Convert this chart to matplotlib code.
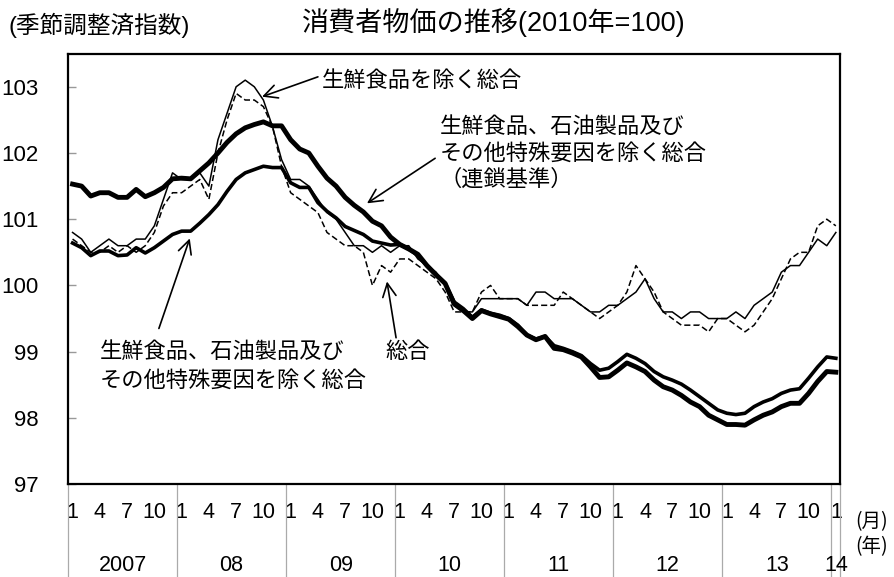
import matplotlib.pyplot as plt
import numpy as np

plt.rcParams['font.family'] = ['Liberation Sans', 'Noto Sans CJK JP']
JP = ['Noto Sans CJK JP', 'DejaVu Sans']

# monthly index, Jan 2007 .. Jan 2014 (85 months)
headline = [
    100.7, 100.6, 100.5, 100.5, 100.6, 100.5, 100.6, 100.5, 100.6, 100.8, 101.2, 101.4,
    101.4, 101.5, 101.6, 101.3, 102.0, 102.5, 102.9, 102.8, 102.8, 102.7, 102.4, 101.8,
    101.4, 101.3, 101.2, 101.1, 100.8, 100.7, 100.6, 100.6, 100.5, 100.0, 100.3, 100.2,
    100.4, 100.4, 100.3, 100.2, 100.1, 99.9, 99.6, 99.6, 99.6, 99.9, 100.0, 99.8,
    99.8, 99.8, 99.7, 99.7, 99.7, 99.7, 99.9, 99.8, 99.7, 99.6, 99.5, 99.6,
    99.7, 99.9, 100.3, 100.1, 99.9, 99.6, 99.5, 99.4, 99.4, 99.4, 99.3, 99.5,
    99.5, 99.4, 99.3, 99.4, 99.6, 99.8, 100.1, 100.4, 100.5, 100.5, 100.9, 101.0,
    100.9,
]
core = [
    100.8, 100.7, 100.5, 100.6, 100.7, 100.6, 100.6, 100.7, 100.7, 100.9, 101.3, 101.7,
    101.6, 101.6, 101.7, 101.5, 102.2, 102.6, 103.0, 103.1, 103.0, 102.8, 102.4, 101.9,
    101.6, 101.6, 101.5, 101.3, 101.1, 101.0, 100.8, 100.6, 100.6, 100.5, 100.6, 100.5,
    100.6, 100.6, 100.4, 100.3, 100.2, 100.0, 99.7, 99.6, 99.6, 99.8, 99.8, 99.8,
    99.8, 99.8, 99.7, 99.9, 99.9, 99.8, 99.8, 99.8, 99.7, 99.6, 99.6, 99.7,
    99.7, 99.8, 99.9, 100.1, 99.8, 99.6, 99.6, 99.5, 99.6, 99.6, 99.5, 99.5,
    99.5, 99.6, 99.5, 99.7, 99.8, 99.9, 100.2, 100.3, 100.3, 100.5, 100.7, 100.6,
    100.8,
]
core_core_fixed = [
    100.64, 100.57, 100.45, 100.52, 100.52, 100.45, 100.46, 100.57, 100.49, 100.57, 100.67, 100.77,
    100.82, 100.82, 100.94, 101.07, 101.22, 101.42, 101.60, 101.70, 101.75, 101.80, 101.78, 101.78,
    101.55, 101.48, 101.48, 101.25, 101.12, 101.02, 100.89, 100.83, 100.77, 100.67, 100.64, 100.61,
    100.62, 100.55, 100.45, 100.30, 100.16, 100.03, 99.75, 99.65, 99.52, 99.63, 99.58, 99.55,
    99.50, 99.40, 99.25, 99.19, 99.23, 99.09, 99.05, 99.00, 98.94, 98.82, 98.72, 98.75,
    98.85, 98.96, 98.90, 98.82, 98.70, 98.62, 98.57, 98.51, 98.42, 98.32, 98.22, 98.12,
    98.07, 98.05, 98.07, 98.17, 98.24, 98.29, 98.37, 98.42, 98.44, 98.60, 98.77, 98.92,
    98.90,
]
core_core_chain = [
    101.53, 101.50, 101.35, 101.40, 101.40, 101.33, 101.33, 101.45, 101.34, 101.40, 101.48, 101.61,
    101.62, 101.61, 101.73, 101.85, 102.00, 102.16, 102.29, 102.38, 102.43, 102.47, 102.41, 102.41,
    102.20, 102.06, 102.00, 101.80, 101.62, 101.50, 101.33, 101.21, 101.11, 100.97, 100.90, 100.73,
    100.62, 100.55, 100.47, 100.30, 100.16, 100.03, 99.72, 99.62, 99.50, 99.62, 99.57, 99.53,
    99.49, 99.38, 99.25, 99.18, 99.23, 99.05, 99.03, 98.98, 98.92, 98.77, 98.61, 98.62,
    98.72, 98.83, 98.77, 98.70, 98.57, 98.47, 98.42, 98.34, 98.24, 98.17, 98.04, 97.97,
    97.90, 97.90, 97.89, 97.97, 98.04, 98.09, 98.17, 98.22, 98.22, 98.37, 98.55, 98.70,
    98.69,
]
month_labels = ['1', '4', '7', '10']
year_labels = ['2007', '08', '09', '10', '11', '12', '13', '14']

x = np.arange(len(headline))

fig = plt.figure(figsize=(8.95, 5.77), dpi=100)
ax = fig.add_axes([0.076, 0.161, 0.863, 0.746])

ax.plot(x, core_core_chain, color='black', lw=3.5, solid_joinstyle='round')
ax.plot(x, core_core_fixed, color='black', lw=2.6, solid_joinstyle='round')
ax.plot(x, core, color='black', lw=1.1)
ax.plot(x, headline, color='black', lw=1.1, linestyle=(0, (4, 2)))

ax.set_xlim(-0.5, len(x) - 0.5)
ax.set_ylim(97, 103.5)
ax.set_yticks(range(97, 104))
ax.tick_params(axis='y', direction='in', length=6, width=1, color='#999999',
               pad=21, labelsize=16)

# month labels 1 4 7 10 for each year, then Jan 2014
ticks = [m for m in x if m % 3 == 0]
ax.set_xticks(ticks)
ax.set_xticklabels([month_labels[(m % 12) // 3] for m in ticks], fontsize=15.5)
ax.tick_params(axis='x', length=0, pad=13)

for s in ax.spines.values():
    s.set_linewidth(1.6)

# year separators below the plot
trans = ax.get_xaxis_transform()
bounds = list(range(0, len(x), 12)) + [len(x)]
for b in bounds:
    ax.plot([b - 0.5, b - 0.5], [0, -0.22], transform=trans, color='#aaaaaa',
            lw=0.9, clip_on=False)
for k, lab in enumerate(year_labels):
    lo = k * 12
    hi = min(lo + 12, len(x))
    ax.text((lo + hi - 1) / 2, -0.19, lab, transform=trans, ha='center',
            va='center', fontsize=15.5)

fig.text(0.974, 0.096, '(月)', fontsize=14, ha='center', va='center', family=JP)
fig.text(0.974, 0.052, '(年)', fontsize=14, ha='center', va='center', family=JP)

fig.text(0.009, 0.956, '(季節調整済指数)', fontsize=17, ha='left', va='center')
fig.text(0.552, 0.962, '消費者物価の推移(2010年=100)', fontsize=19.5, ha='center',
         va='center')

arrow = dict(arrowstyle='->', lw=1.2, color='black', mutation_scale=24,
             shrinkA=0, shrinkB=0)

# 生鮮食品を除く総合
ax.annotate('', xy=(20.85, 102.85), xytext=(27.0, 103.15), arrowprops=arrow)
ax.text(27.4, 103.1, '生鮮食品を除く総合', fontsize=16, ha='left', va='center', family=JP)

# 連鎖基準
ax.annotate('', xy=(32.4, 101.24), xytext=(39.9, 101.92), arrowprops=arrow)
ax.text(40.4, 102.4, '生鮮食品、石油製品及び', fontsize=16, ha='left', va='center', family=JP)
ax.text(40.4, 102.0, 'その他特殊要因を除く総合', fontsize=16, ha='left', va='center', family=JP)
ax.text(40.4, 101.6, '（連鎖基準）', fontsize=16, ha='left', va='center', family=JP)

# 総合
ax.annotate('', xy=(34.6, 100.06), xytext=(35.6, 99.21), arrowprops=arrow)
ax.text(34.4, 99.0, '総合', fontsize=16, ha='left', va='center', family=JP)

# 固定基準
ax.annotate('', xy=(12.9, 100.71), xytext=(9.5, 99.35), arrowprops=arrow)
ax.text(3.0, 99.0, '生鮮食品、石油製品及び', fontsize=16, ha='left', va='center', family=JP)
ax.text(3.0, 98.57, 'その他特殊要因を除く総合', fontsize=16, ha='left', va='center', family=JP)

fig.savefig('out.png', dpi=100)
